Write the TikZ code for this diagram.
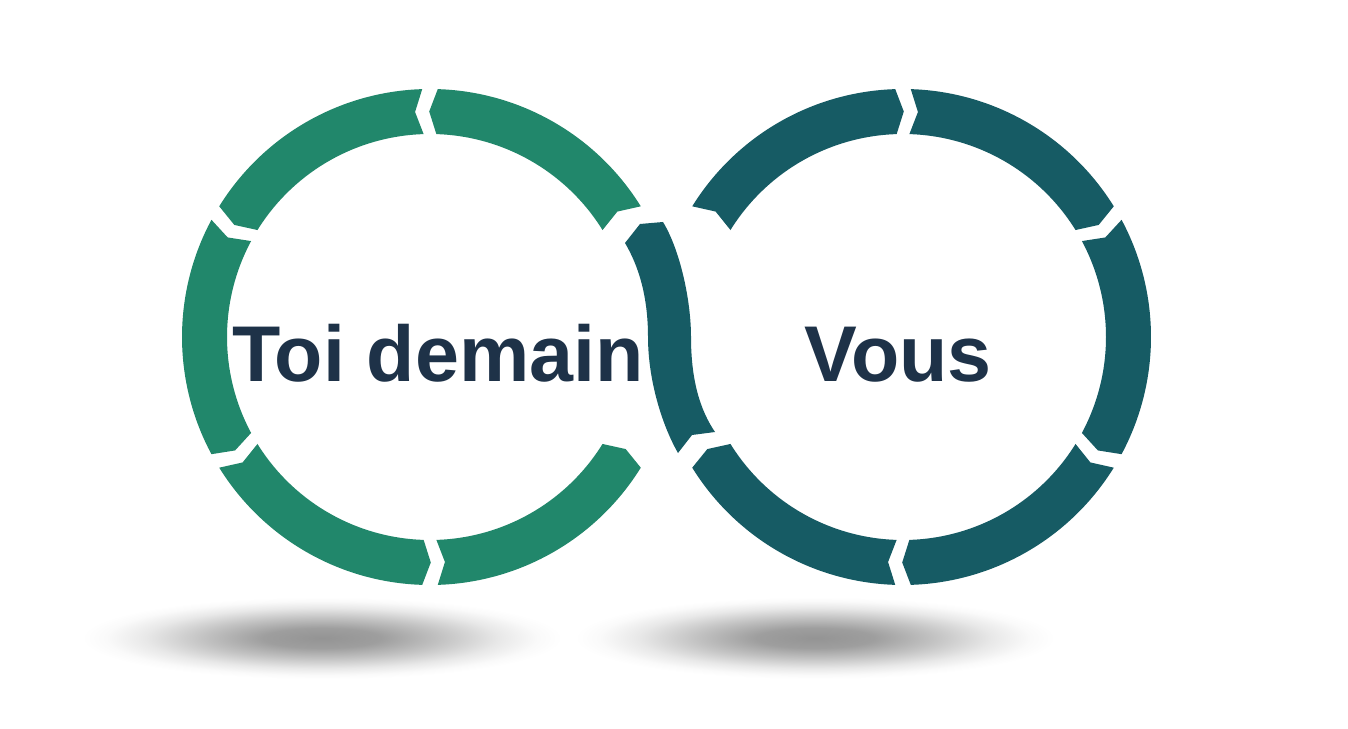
\documentclass[tikz,border=0pt]{standalone}
\usepackage{fontspec}
\setmainfont{Liberation Sans}
\usepackage{xcolor}
\usetikzlibrary{positioning}

\definecolor{ringgreen}{RGB}{33,135,107}
\definecolor{ringteal}{RGB}{22,91,100}
\definecolor{labelnavy}{RGB}{30,50,72}

\pgfdeclareradialshading{ringshadow}{\pgfpoint{0bp}{0bp}}{%
  color(0bp)=(black!42);
  color(6bp)=(black!38);
  color(12bp)=(black!24);
  color(18bp)=(black!9);
  color(22bp)=(black!2);
  color(24.5bp)=(white);
  color(50bp)=(white)}

\begin{document}
\begin{tikzpicture}[
  x=0.02cm,
  y=-0.02cm,
  leftseg/.style={fill=ringgreen},
  rightseg/.style={fill=ringteal},
  ringlabel/.style={
    anchor=base,
    text=labelnavy,
    font=\bfseries\fontsize{45}{54}\selectfont,
    inner sep=0pt
  },
  shadowblob/.style={shading=ringshadow}
]
  \useasboundingbox[fill=white] (0,0) rectangle (1348,729);

  % Soft shadows under the two rings.
  \shade[shadowblob] (322,638) ellipse [x radius=245, y radius=42];
  \shade[shadowblob] (815,638) ellipse [x radius=245, y radius=42];

  \def\rout{248}
  \def\rin{203}
  \def\rmid{225.5}
  \def\sgap{1.8}
  \def\stip{2}

  % Left ring, arrows running counterclockwise.
  \begin{scope}[shift={(430,337)},y=0.02cm]
    \foreach \a/\b in {30/90,90/150,150/210,210/270,270/330}
      \fill[leftseg] ({\a+\sgap}:\rout)
        arc[start angle=\a+\sgap, end angle=\b-\sgap, radius=\rout]
        -- ({\b-\sgap+\stip}:\rmid) -- ({\b-\sgap}:\rin)
        arc[start angle=\b-\sgap, end angle=\a+\sgap, radius=\rin]
        -- ({\a+\sgap+\stip}:\rmid) -- cycle;
  \end{scope}

  % Crossing piece shared by both rings.
  \fill[rightseg] (625,243) -- (640,224) -- (663,222)
    .. controls (680,250) and (691,300) .. (691,337)
    .. controls (691,380) and (700,410) .. (715,432)
    -- (692,435) -- (678,453)
    .. controls (662,425) and (648,380) .. (648,337)
    .. controls (648,295) and (638,265) .. (625,243) -- cycle;

  % Right ring, arrows running clockwise.
  \begin{scope}[shift={(903,337)},y=0.02cm]
    \foreach \a/\b in {-30/30,30/90,90/150,210/270,270/330}
      \fill[rightseg] ({\a+\sgap}:\rout)
        arc[start angle=\a+\sgap, end angle=\b-\sgap, radius=\rout]
        -- ({\b-\sgap-\stip}:\rmid) -- ({\b-\sgap}:\rin)
        arc[start angle=\b-\sgap, end angle=\a+\sgap, radius=\rin]
        -- ({\a+\sgap-\stip}:\rmid) -- cycle;
  \end{scope}

  \node[ringlabel] (toidemain) at (438,381) {Toi demain};
  \node[ringlabel] (vous) at (898,381) {Vous};
\end{tikzpicture}
\end{document}
